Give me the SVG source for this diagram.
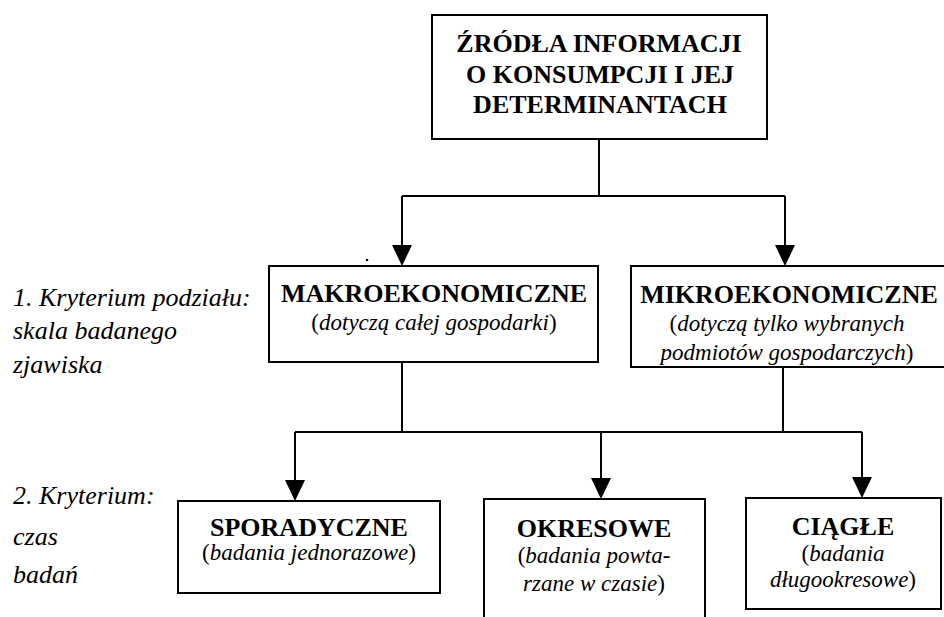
<svg xmlns="http://www.w3.org/2000/svg" width="944" height="617" viewBox="0 0 944 617">
<style>
.box{fill:#fff;stroke:#000;stroke-width:2}
.ln{fill:none;stroke:#000;stroke-width:2}
.t{font-family:"Liberation Serif","Times New Roman",serif;fill:#000}
.b{font-weight:bold;font-size:26px}
.i{font-style:italic;font-size:23px}
.lab{font-style:italic;font-size:26px}
.n{font-style:normal}
</style>
<defs>
<marker id="ah" viewBox="0 0 21 20" markerWidth="21" markerHeight="20" refX="18" refY="10" orient="auto" markerUnits="userSpaceOnUse">
<path d="M0,0 L21,10 L0,20 z" fill="#000"/>
</marker>
<clipPath id="mikroClip"><rect x="631" y="266" width="320" height="99"/></clipPath>
</defs>
<rect width="944" height="617" fill="#fff"/>

<g id="connectors">
<path class="ln" d="M599,139 V196 M402,196 H785"/>
<path class="ln" d="M402,196 V263" marker-end="url(#ah)"/>
<path class="ln" d="M785,196 V263" marker-end="url(#ah)"/>
<path class="ln" d="M402,362 V432 M783,367 V432 M295,432 H862"/>
<path class="ln" d="M295,432 V498" marker-end="url(#ah)"/>
<path class="ln" d="M601,432 V496" marker-end="url(#ah)"/>
<path class="ln" d="M862,432 V495" marker-end="url(#ah)"/>
</g>

<g id="top">
<rect class="box" x="432" y="15" width="335" height="124"/>
<text class="t b" text-anchor="middle" x="599" y="52">ŹRÓDŁA INFORMACJI</text>
<text class="t b" text-anchor="middle" x="600" y="83">O KONSUMPCJI I JEJ</text>
<text class="t b" text-anchor="middle" x="600" y="113">DETERMINANTACH</text>
</g>

<g id="makro">
<rect class="box" x="269" y="266" width="329" height="96"/>
<text class="t b" text-anchor="middle" x="434" y="302">MAKROEKONOMICZNE</text>
<text class="t i" text-anchor="middle" x="434" y="330"><tspan class="n">(</tspan>dotyczą całej gospodarki<tspan class="n">)</tspan></text>
<circle cx="367" cy="260" r="1.3" fill="#000"/>
</g>

<g id="mikro">
<rect class="box" x="631" y="266" width="320" height="101"/>
<text class="t b" text-anchor="middle" x="789" y="303">MIKROEKONOMICZNE</text>
<g clip-path="url(#mikroClip)">
<text class="t i" text-anchor="middle" x="787" y="331"><tspan class="n">(</tspan>dotyczą tylko wybranych</text>
<text class="t i" text-anchor="middle" x="787" y="360">podmiotów gospodarczych<tspan class="n">)</tspan></text>
</g>
</g>

<g id="label1">
<text class="t lab" x="13" y="306">1. Kryterium podziału:</text>
<text class="t lab" x="13" y="339">skala badanego</text>
<text class="t lab" x="13" y="373">zjawiska</text>
</g>

<g id="label2">
<text class="t lab" x="13" y="504">2. Kryterium:</text>
<text class="t lab" x="13" y="545">czas</text>
<text class="t lab" x="13" y="583">badań</text>
</g>

<g id="sporadyczne">
<rect class="box" x="178" y="501" width="262" height="92"/>
<text class="t b" text-anchor="middle" x="309" y="536">SPORADYCZNE</text>
<text class="t i" text-anchor="middle" x="309" y="560"><tspan class="n">(</tspan>badania jednorazowe<tspan class="n">)</tspan></text>
</g>

<g id="okresowe">
<rect class="box" x="484" y="499" width="221" height="130"/>
<text class="t b" text-anchor="middle" x="594" y="537">OKRESOWE</text>
<text class="t i" text-anchor="middle" x="594" y="563"><tspan class="n">(</tspan>badania powta-</text>
<text class="t i" text-anchor="middle" x="594" y="591">rzane w czasie<tspan class="n">)</tspan></text>
</g>

<g id="ciagle">
<rect class="box" x="746" y="498" width="195" height="111"/>
<text class="t b" text-anchor="middle" x="843" y="535">CIĄGŁE</text>
<text class="t i" text-anchor="middle" x="843" y="561"><tspan class="n">(</tspan>badania</text>
<text class="t i" text-anchor="middle" x="843" y="587">długookresowe<tspan class="n">)</tspan></text>
</g>
</svg>
